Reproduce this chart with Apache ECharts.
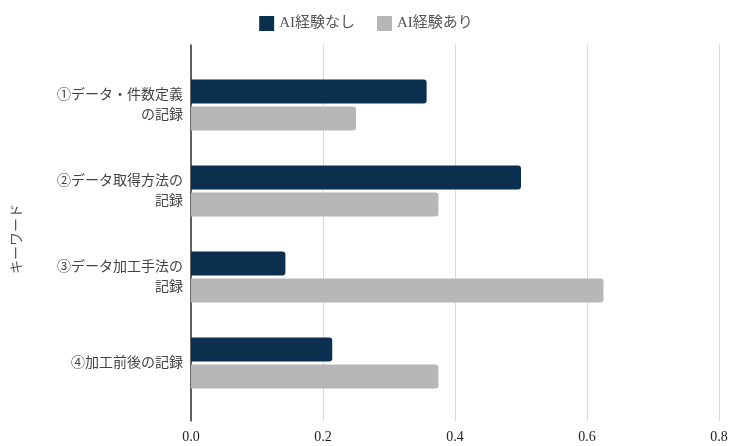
<!DOCTYPE html>
<html>
<head>
<meta charset="utf-8">
<script src="https://cdn.jsdelivr.net/npm/echarts@6/dist/echarts.min.js"></script>
<style>html,body{margin:0;padding:0;background:#fff}#c{width:732px;height:446px}</style>
</head>
<body>
<div id="c"></div>
<script>
const categories = ['①データ・件数定義\nの記録', '②データ取得方法の\n記録', '③データ加工手法の\n記録', '④加工前後の記録'];
const seriesNames = ['AI経験なし', 'AI経験あり'];
const noAI = [0.357, 0.5, 0.143, 0.214];
const withAI = [0.25, 0.375, 0.625, 0.375];
const xMin = 0, xMax = 0.8, xStep = 0.2;
const yAxisTitle = 'キーワード';

const FONT = '"Liberation Serif", "Noto Sans CJK JP", serif';
const chart = echarts.init(document.getElementById('c'));
chart.setOption({
  backgroundColor: '#fff',
  animation: false,
  textStyle: { fontFamily: FONT },
  legend: {
    top: 11, left: 'center',
    itemWidth: 15, itemHeight: 15, itemGap: 22,
    icon: 'rect',
    textStyle: { fontSize: 15, color: '#555', fontFamily: FONT },
    data: seriesNames
  },
  grid: [
    { left: 191, right: 13, top: 45, bottom: 25, containLabel: false, outerBoundsMode: 'none' },
    { left: 191, right: 13, top: 62, bottom: 40, containLabel: false, outerBoundsMode: 'none' }
  ],
  xAxis: [
    { gridIndex: 0, type: 'value', min: xMin, max: xMax, interval: xStep,
      axisLine: { show: false }, axisTick: { show: false },
      splitLine: { lineStyle: { color: '#d9d9d9', width: 1 } },
      axisLabel: { margin: 9, fontSize: 14, color: '#222', fontFamily: FONT,
        formatter: v => v.toFixed(1) } },
    { gridIndex: 1, type: 'value', min: xMin, max: xMax, interval: xStep, show: false }
  ],
  yAxis: [
    { gridIndex: 0, type: 'value', min: 0, max: 1,
      axisLine: { show: true, lineStyle: { color: '#333', width: 1.5 } },
      axisTick: { show: false }, axisLabel: { show: false }, splitLine: { show: false },
      name: yAxisTitle, nameLocation: 'middle', nameRotate: 90, nameGap: 167,
      nameTextStyle: { fontSize: 14, color: '#555', fontFamily: FONT, padding: [0, 12, 0, 0] } },
    { gridIndex: 1, type: 'category', inverse: true, data: categories,
      axisLine: { show: false }, axisTick: { show: false }, splitLine: { show: false },
      axisLabel: { margin: 8, fontSize: 14, color: '#444', lineHeight: 20, align: 'right', fontFamily: FONT } }
  ],
  series: [
    { name: seriesNames[0], type: 'bar', xAxisIndex: 1, yAxisIndex: 1, data: noAI,
      barWidth: 24, barGap: '12%',
      itemStyle: { color: '#0b2f4e', borderRadius: [0, 3, 3, 0] } },
    { name: seriesNames[1], type: 'bar', xAxisIndex: 1, yAxisIndex: 1, data: withAI,
      barWidth: 24, barGap: '12%',
      itemStyle: { color: '#b7b7b7', borderRadius: [0, 3, 3, 0] } }
  ]
});
</script>
</body>
</html>
